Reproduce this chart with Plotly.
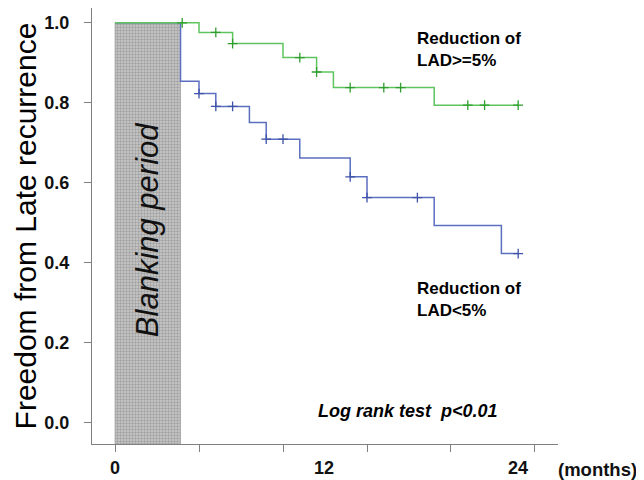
import numpy as np
import plotly.graph_objects as go

# ---- data ----
blanking_end = 3.9  # months

green_times = [0, 5, 7, 10, 12, 13, 19, 24]
green_surv = [1.0, 0.976, 0.948, 0.913, 0.877, 0.838, 0.794, 0.794]
green_censor = [4, 6, 7, 11, 12, 14, 16, 17, 21, 22, 24]

blue_times = [0, 3.9, 5, 6, 8, 9, 11, 14, 15, 19, 23, 24]
blue_surv = [1.0, 0.854, 0.823, 0.791, 0.751, 0.709, 0.662, 0.615, 0.563, 0.493, 0.423, 0.423]
blue_censor = [5, 6, 7, 9, 10, 14, 15, 18, 24]

x_tick_vals = [0, 5, 10, 15, 20, 25]
x_label_vals = [0, 12, 24]
x_label_text = ["0", "12", "24"]
y_tick_vals = [0.0, 0.2, 0.4, 0.6, 0.8, 1.0]
y_tick_text = ["0.0", "0.2", "0.4", "0.6", "0.8", "1.0"]

GREEN_LINE = "#5fc35f"
GREEN_MARK = "#2f9e2f"
BLUE_LINE = "#5b6fc0"
BLUE_MARK = "#3d52a8"
AXIS = "#808080"
FONT = "Liberation Sans, Arial, sans-serif"

X_RANGE = [-1.37, 26.37]
Y_RANGE = [-0.053, 1.037]


def step_value(times, surv, t):
    idx = np.searchsorted(np.array(times), t, side="right") - 1
    return surv[idx]


fig = go.Figure()

# blanking period box
fig.add_trace(go.Scatter(
    x=[0, blanking_end, blanking_end, 0, 0],
    y=[Y_RANGE[0], Y_RANGE[0], 1.0, 1.0, Y_RANGE[0]],
    mode="lines", fill="toself",
    line=dict(color="#8f8f8f", width=0.6),
    fillcolor="#b8b8b8",
    fillpattern=dict(shape=".", size=3, solidity=0.5,
                     fgcolor="#7a7a7a", bgcolor="#cacaca"),
    hoverinfo="skip", showlegend=False,
))

# blue curve
fig.add_trace(go.Scatter(
    x=blue_times, y=blue_surv, mode="lines", line_shape="hv",
    line=dict(color=BLUE_LINE, width=1.5), showlegend=False,
))
fig.add_trace(go.Scatter(
    x=blue_censor, y=[step_value(blue_times, blue_surv, t) for t in blue_censor],
    mode="markers",
    marker=dict(symbol="cross-thin", size=7, line=dict(color=BLUE_MARK, width=1.3)),
    showlegend=False,
))

# green curve
fig.add_trace(go.Scatter(
    x=green_times, y=green_surv, mode="lines", line_shape="hv",
    line=dict(color=GREEN_LINE, width=1.5), showlegend=False,
))
fig.add_trace(go.Scatter(
    x=green_censor, y=[step_value(green_times, green_surv, t) for t in green_censor],
    mode="markers",
    marker=dict(symbol="cross-thin", size=7, line=dict(color=GREEN_MARK, width=1.3)),
    showlegend=False,
))

annotations = []
# x labels
for v, t in zip(x_label_vals, x_label_text):
    annotations.append(dict(
        x=v, y=0, xref="x", yref="paper", yshift=-24, text=f"<b>{t}</b>",
        showarrow=False, xanchor="center", yanchor="middle",
        xshift=7 if v == 12 else 0,
        font=dict(family=FONT, size=18, color="#111"),
    ))
annotations.append(dict(
    x=1.0837, y=0, xref="paper", yref="paper", yshift=-25, text="<b>(months)</b>",
    showarrow=False, xanchor="center", yanchor="middle",
    font=dict(family=FONT, size=18.5, color="#111"),
))
# y title
annotations.append(dict(
    x=0, y=0.499, xref="paper", yref="paper", xshift=-67,
    text="Freedom from Late recurrence", textangle=-90,
    showarrow=False, xanchor="center", yanchor="middle",
    font=dict(family=FONT, size=30, color="#000"),
))
# blanking
annotations.append(dict(
    x=blanking_end / 2, y=(Y_RANGE[0] + 1.0) / 2 + 0.01, xref="x", yref="y",
    text="<i>Blanking period</i>", textangle=-90, showarrow=False,
    xanchor="center", yanchor="middle",
    font=dict(family=FONT, size=31, color="#111"),
))
# group labels
annotations.append(dict(
    x=17.86, y=0.934, xref="x", yref="y",
    text="<b>Reduction of<br>LAD&gt;=5%</b>", showarrow=False,
    xanchor="left", yanchor="middle", align="left",
    font=dict(family=FONT, size=17, color="#000"),
))
annotations.append(dict(
    x=17.86, y=0.309, xref="x", yref="y",
    text="<b>Reduction of<br>LAD&lt;5%</b>", showarrow=False,
    xanchor="left", yanchor="middle", align="left",
    font=dict(family=FONT, size=17, color="#000"),
))
annotations.append(dict(
    x=11.96, y=0.029, xref="x", yref="y",
    text="<b><i>Log rank test&nbsp; p&lt;0.01</i></b>", showarrow=False,
    xanchor="left", yanchor="middle",
    font=dict(family=FONT, size=18, color="#000"),
))

fig.update_layout(
    width=644, height=480,
    margin=dict(l=84, r=94, t=0, b=44),
    paper_bgcolor="white", plot_bgcolor="white",
    annotations=annotations,
    showlegend=False,
)
fig.update_xaxes(
    range=X_RANGE, tickvals=x_tick_vals, ticktext=[""] * len(x_tick_vals),
    ticks="outside", ticklen=7, tickcolor=AXIS, tickwidth=1.2,
    showline=True, linecolor=AXIS, linewidth=1.2,
    showgrid=False, zeroline=False,
)
fig.update_yaxes(
    range=Y_RANGE, tickvals=y_tick_vals, ticktext=[f"<b>{t}</b>" for t in y_tick_text],
    ticks="outside", ticklen=7, tickcolor=AXIS, tickwidth=1.2,
    showline=True, linecolor=AXIS, linewidth=1.2,
    showgrid=False, zeroline=False,
    tickfont=dict(family=FONT, size=18, color="#111"),
    ticklabelstandoff=11,
)

fig.write_html("out.html")
